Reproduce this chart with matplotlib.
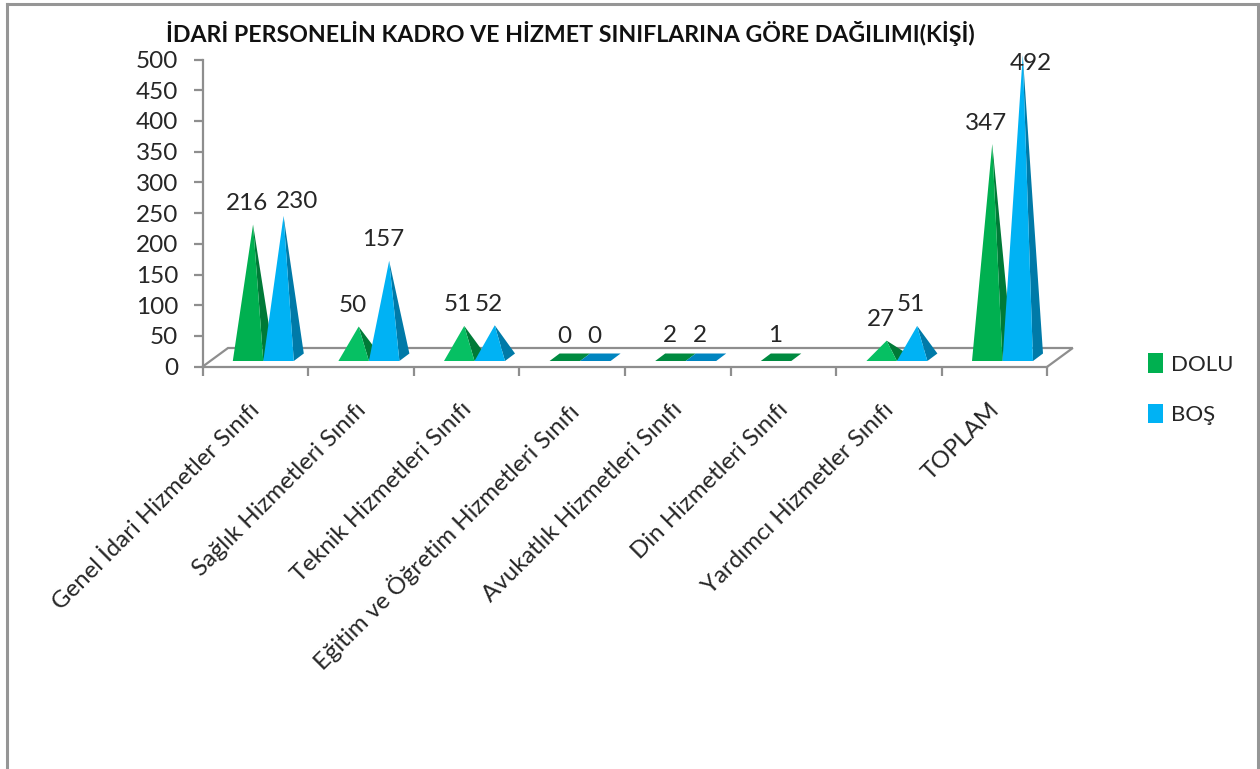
import matplotlib
matplotlib.use("Agg")
import matplotlib.pyplot as plt
from matplotlib.lines import Line2D
from matplotlib.patches import Patch, Polygon
from matplotlib.transforms import ScaledTranslation

plt.rcParams['font.family'] = ['Lato', 'DejaVu Sans']

TITLE = "İDARİ PERSONELİN KADRO VE HİZMET SINIFLARINA GÖRE DAĞILIMI(KİŞİ)"
categories = ["Genel İdari Hizmetler Sınıfı", "Sağlık Hizmetleri Sınıfı", "Teknik Hizmetleri Sınıfı",
              "Eğitim ve Öğretim Hizmetleri Sınıfı", "Avukatlık Hizmetleri Sınıfı", "Din Hizmetleri Sınıfı",
              "Yardımcı Hizmetler Sınıfı", "TOPLAM"]
dolu = [216, 50, 51, 0, 2, 1, 27, 347]
bos = [230, 157, 52, 0, 2, None, 51, 492]
y_ticks = list(range(0, 501, 50))

W, H = 1260, 769
fig = plt.figure(figsize=(W / 100, H / 100), dpi=100, facecolor="white")
L, R, T, B = 202.5, 1047.3, 59.5, 366.7
ax = fig.add_axes([L / W, 1 - B / H, (R - L) / W, (B - T) / H])
ax.set_xlim(0, len(categories))
ax.set_ylim(0, 500)
ax.patch.set_visible(False)

GREY = "#8e8e8e"
TEXT = "#262626"
px_x = len(categories) / (R - L)      # data units per pixel
px_y = 500 / (B - T)

for s in ("top", "right"):
    ax.spines[s].set_visible(False)
for s in ("left", "bottom"):
    ax.spines[s].set_color(GREY)
    ax.spines[s].set_linewidth(1.6)

# floor back edge
fx, fy = 25.5 * px_x, 18.7 * px_y
n = len(categories)
ax.plot([0, fx, n + fx, n], [0, fy, fy, 0], color=GREY, lw=1.6, clip_on=False,
        solid_joinstyle="miter", zorder=1)


def pyramid(center, value, front, side, flat):
    w = 30.5 * px_x
    dx, dy = 10 * px_x, 7.5 * px_y
    base = 5.7 * px_y
    x0, x1 = center - w / 2, center + w / 2
    apex = (center + dx / 2, base + dy / 2 + value)
    if value < 5:
        ax.add_patch(Polygon([(x0, base), (x1, base), (x1 + dx, base + dy), (x0 + dx, base + dy)],
                             fc=flat, ec="none", clip_on=False, zorder=3))
        return apex
    ax.add_patch(Polygon([(x1, base), (x1 + dx, base + dy), apex], fc=side, ec="none",
                         clip_on=False, zorder=3))
    ax.add_patch(Polygon([(x0, base), (x1, base), apex], fc=front, ec="none",
                         clip_on=False, zorder=3))
    return apex


GREEN, GREEN_LIGHT, GREEN_SIDE, GREEN_FLAT = "#00b050", "#06c063", "#007a37", "#008a40"
BLUE, BLUE_SIDE, BLUE_FLAT = "#00b2f4", "#007aa8", "#0085c0"
LABEL_DEFAULT = (-6, 21)
label_override = {(0, 1): (13.5, 14.5), (7, 1): (8, -8.5)}

for i, (d, b) in enumerate(zip(dolu, bos)):
    c = i + 0.5 + 8 * px_x
    off = 15.25 * px_x
    for k, (v, cx) in enumerate(((d, c - off), (b, c + off))):
        if v is None:
            continue
        if k == 0:
            apex = pyramid(cx, v, GREEN_LIGHT if v < 100 else GREEN, GREEN_SIDE, GREEN_FLAT)
        else:
            apex = pyramid(cx, v, BLUE, BLUE_SIDE, BLUE_FLAT)
        ox, oy = label_override.get((i, k), LABEL_DEFAULT)
        ax.annotate(str(v), apex, xytext=(ox, oy), textcoords="offset pixels", ha="center",
                    va="center", fontsize=17.5, color=TEXT, annotation_clip=False, zorder=5)

ax.set_yticks(y_ticks)
ax.tick_params(axis="y", length=6.5, width=1.6, color=GREY, labelsize=17.5, labelcolor=TEXT, pad=11)
ax.set_xticks(range(n + 1))
ax.set_xticklabels([])
ax.tick_params(axis="x", which="major", length=6.5, width=1.6, color=GREY)
ax.set_xticks([i + 0.5 for i in range(n)], minor=True)
ax.set_xticklabels(categories, minor=True, rotation=45, ha="right", va="top", rotation_mode="anchor",
                   fontsize=17.3, color=TEXT)
ax.tick_params(axis="x", which="minor", length=0, pad=18)
shift = ScaledTranslation(-6 / 100, -7 / 100, fig.dpi_scale_trans)
for lab in ax.get_xticklabels(minor=True):
    lab.set_transform(lab.get_transform() + shift)

fig.text(570 / W, 1 - 34 / H, TITLE, ha="center", va="center", fontsize=16.7, fontweight="bold",
         color="#111111")

fig.legend(handles=[Patch(fc=GREEN, ec="none", label="DOLU"), Patch(fc=BLUE, ec="none", label="BOŞ")],
           loc="upper left", bbox_to_anchor=(1143.5 / W, 1 - 349 / H), frameon=False, fontsize=16,
           labelcolor=TEXT, handlelength=0.68, handleheight=0.95, handletextpad=0.36,
           labelspacing=1.3, borderpad=0.2, borderaxespad=0)

# chart frame, open at the bottom
for xs, ys in (((7, 7), (3.5, H)), ((7, 1258), (3.5, 3.5)), ((1258, 1258), (3.5, H))):
    fig.add_artist(Line2D([x / W for x in xs], [1 - y / H for y in ys], color="#969696", lw=2.2))

fig.savefig("out.png", dpi=100)
